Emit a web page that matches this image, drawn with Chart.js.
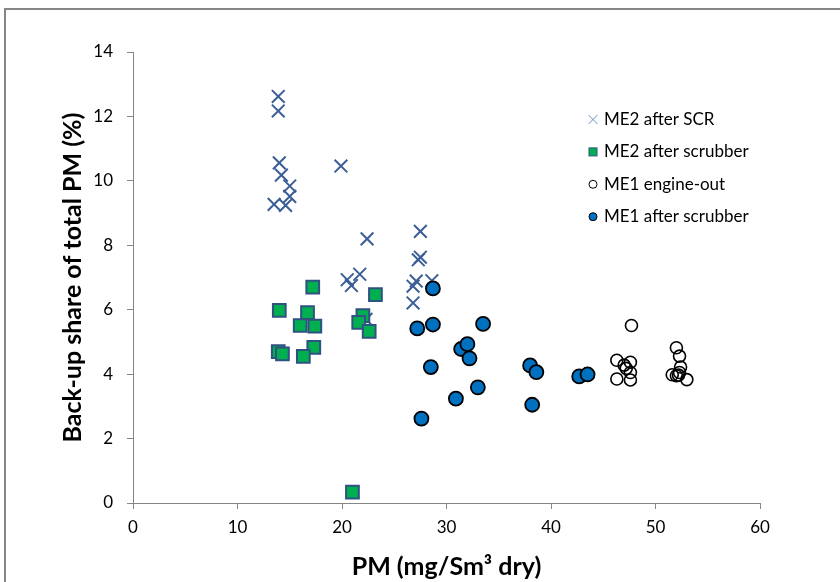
<!DOCTYPE html>
<html>
<head>
<meta charset="utf-8">
<script src="https://cdn.jsdelivr.net/npm/chart.js@4.4.1/dist/chart.umd.min.js"></script>
<style>
  html, body { margin: 0; padding: 0; background: #fff; }
  #wrap { width: 840px; height: 582px; position: relative; }
</style>
</head>
<body>
<div id="wrap"><canvas id="c" width="840" height="582"></canvas></div>
<script>
// ---- Data ----
const seriesNames = ["ME2 after SCR", "ME2 after scrubber", "ME1 engine-out", "ME1 after scrubber"];

const scrX = [13.9, 13.9, 14.0, 14.2, 15.0, 15.0, 13.5, 14.6, 19.9, 22.4, 27.5, 27.5, 27.3, 21.7, 20.5, 20.9, 27.1, 26.8, 28.6, 26.8, 22.3];
const scrY = [12.62, 12.17, 10.56, 10.18, 9.84, 9.52, 9.27, 9.24, 10.46, 8.20, 8.43, 7.63, 7.55, 7.10, 6.93, 6.75, 6.89, 6.73, 6.90, 6.21, 5.70];

const me2ScrubX = [17.2, 14.0, 16.7, 16.0, 17.4, 23.2, 22.0, 21.6, 22.6, 13.9, 14.3, 17.3, 16.3, 21.0];
const me2ScrubY = [6.70, 5.98, 5.91, 5.51, 5.49, 6.47, 5.82, 5.61, 5.33, 4.70, 4.63, 4.83, 4.55, 0.34];

const me1OutX = [47.7, 46.3, 47.0, 47.6, 47.2, 47.6, 46.3, 47.6, 52.0, 52.3, 52.4, 51.6, 52.0, 52.3, 53.0, 52.2];
const me1OutY = [5.51, 4.43, 4.28, 4.37, 4.18, 4.05, 3.85, 3.82, 4.82, 4.56, 4.22, 3.98, 3.95, 4.05, 3.83, 3.97];

const me1ScrubX = [28.7, 27.2, 28.7, 33.5, 31.4, 32.0, 32.2, 28.5, 38.0, 38.6, 42.7, 43.5, 33.0, 30.9, 38.2, 27.6];
const me1ScrubY = [6.66, 5.42, 5.54, 5.56, 4.78, 4.93, 4.49, 4.22, 4.27, 4.06, 3.93, 3.99, 3.59, 3.24, 3.05, 2.62];

const xTicks = [0, 10, 20, 30, 40, 50, 60];
const yTicks = [0, 2, 4, 6, 8, 10, 12, 14];

const xTitle = "PM (mg/Sm\u00B3 dry)";
const yTitle = "Back-up share of total PM (%)";

function pts(xs, ys) { return xs.map((x, i) => ({ x: x, y: ys[i] })); }

const FONT = "Lato, 'Open Sans', sans-serif";
const AXIS_GRAY = "#868686";

const datasets = [
  { label: seriesNames[0], data: pts(scrX, scrY), pointStyle: "crossRot", pointRadius: 9,
    borderColor: "#3B5E96", backgroundColor: "#3B5E96", pointBorderWidth: 2, order: 4, showLine: false },
  { label: seriesNames[1], data: pts(me2ScrubX, me2ScrubY), pointStyle: "rect", pointRadius: 9,
    borderColor: "#2F5280", backgroundColor: "#00B050", pointBorderWidth: 2, order: 3, showLine: false },
  { label: seriesNames[2], data: pts(me1OutX, me1OutY), pointStyle: "circle", pointRadius: 6,
    borderColor: "#000000", backgroundColor: "rgba(0,0,0,0)", pointBorderWidth: 1.6, order: 2, showLine: false },
  { label: seriesNames[3], data: pts(me1ScrubX, me1ScrubY), pointStyle: "circle", pointRadius: 7,
    borderColor: "#000000", backgroundColor: "#0070C0", pointBorderWidth: 1.8, order: 1, showLine: false }
];

const framePlugin = {
  id: "frame",
  beforeDraw(chart) {
    const ctx = chart.ctx;
    ctx.save();
    ctx.fillStyle = "#fff";
    ctx.fillRect(0, 0, chart.width, chart.height);
    ctx.strokeStyle = AXIS_GRAY;
    ctx.lineWidth = 2;
    ctx.strokeRect(5, 9, 1000, 800);
    ctx.restore();
  }
};

const legendPlugin = {
  id: "insideLegend",
  afterDraw(chart) {
    const ctx = chart.ctx;
    const mx = 593, tx = 604, y0 = 119.5, dy = 32.4;
    ctx.save();
    ctx.font = "17px " + FONT;
    ctx.textBaseline = "middle";
    ctx.fillStyle = "#000";
    chart.data.datasets.forEach((ds, i) => {
      const y = y0 + i * dy;
      ctx.beginPath();
      if (ds.pointStyle === "crossRot") {
        ctx.strokeStyle = "#6F8FC0";
        ctx.lineWidth = 1;
        const r = 4.5;
        ctx.moveTo(mx - r, y - r); ctx.lineTo(mx + r, y + r);
        ctx.moveTo(mx + r, y - r); ctx.lineTo(mx - r, y + r);
        ctx.stroke();
      } else if (ds.pointStyle === "rect") {
        ctx.fillStyle = ds.backgroundColor;
        ctx.fillRect(mx - 4, y - 4, 8, 8);
        ctx.strokeStyle = ds.borderColor;
        ctx.lineWidth = 1;
        ctx.strokeRect(mx - 4, y - 4, 8, 8);
      } else {
        ctx.arc(mx, y, 4, 0, Math.PI * 2);
        ctx.fillStyle = ds.backgroundColor;
        ctx.fill();
        ctx.strokeStyle = "#000";
        ctx.lineWidth = 1;
        ctx.stroke();
      }
      ctx.fillStyle = "#000";
      ctx.fillText(ds.label, tx, y);
    });
    ctx.restore();
  }
};

new Chart(document.getElementById("c"), {
  type: "scatter",
  data: { datasets: datasets },
  plugins: [framePlugin, legendPlugin],
  options: {
    responsive: false,
    animation: false,
    devicePixelRatio: 1,
    layout: { padding: { top: 52, right: 80, left: 0, bottom: 0 } },
    plugins: { legend: { display: false }, tooltip: { enabled: false } },
    scales: {
      x: {
        type: "linear", min: 0, max: 60,
        afterBuildTicks(scale) { scale.ticks = xTicks.map(v => ({ value: v })); },
        afterFit(scale) { scale.height = 79; },
        ticks: { font: { family: FONT, size: 17 }, color: "#000", padding: 8 },
        grid: { drawOnChartArea: false, drawTicks: true, tickLength: 6, color: AXIS_GRAY },
        border: { color: AXIS_GRAY, width: 1 },
        title: { display: true, text: xTitle, font: { family: FONT, size: 25, weight: "bold" }, color: "#000", padding: { top: 0, bottom: 0 } }
      },
      y: {
        type: "linear", min: 0, max: 14,
        afterBuildTicks(scale) { scale.ticks = yTicks.map(v => ({ value: v })); },
        afterFit(scale) { scale.width = 133; },
        ticks: { font: { family: FONT, size: 17 }, color: "#000", padding: 14 },
        grid: { drawOnChartArea: false, drawTicks: true, tickLength: 6, color: AXIS_GRAY },
        border: { color: AXIS_GRAY, width: 1 },
        title: { display: true, text: yTitle, font: { family: FONT, size: 25, weight: "bold" }, color: "#000", padding: { top: 58, bottom: 0 } }
      }
    }
  }
});
</script>
</body>
</html>
